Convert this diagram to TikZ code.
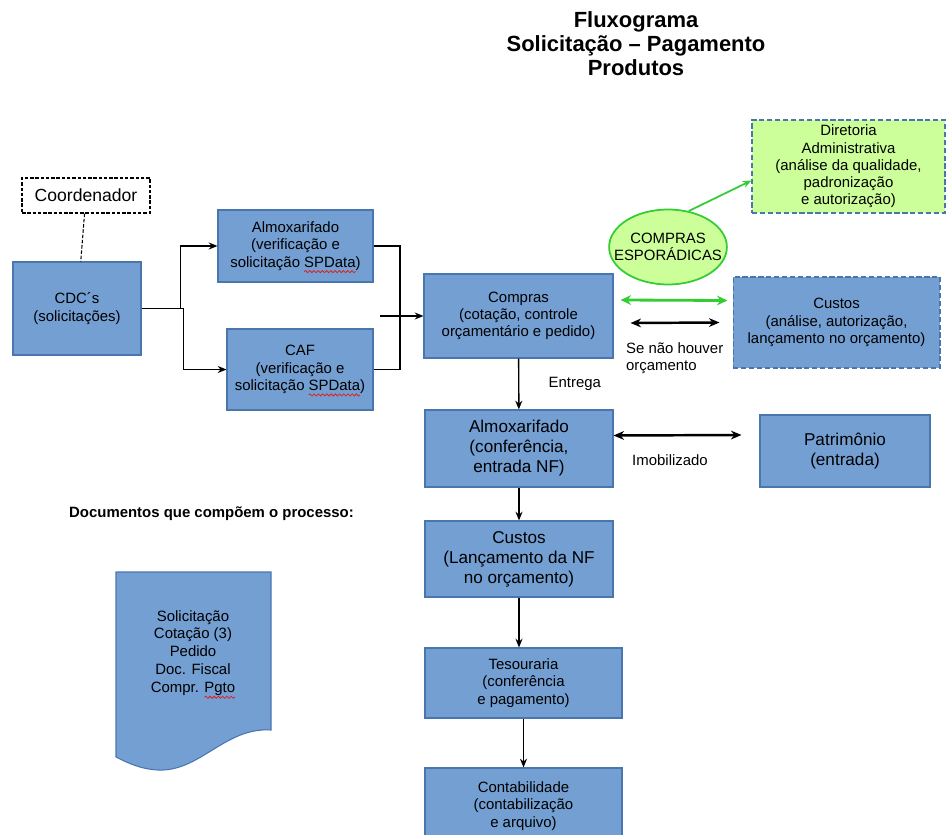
\documentclass[tikz,border=0pt]{standalone}
\usepackage{fontspec}
\setmainfont{Liberation Sans}
\usetikzlibrary{positioning,calc,arrows.meta,shapes.geometric,decorations.pathmorphing}
\definecolor{cbox}{HTML}{739FD2}
\definecolor{cedge}{HTML}{4A76B0}
\definecolor{clime}{HTML}{CCFF99}
\definecolor{cgreen}{HTML}{33CC33}
\definecolor{cspell}{HTML}{E02020}
\newlength\spellw
\newcommand\spellerr[1]{\settowidth\spellw{#1}\rlap{\tikz[x=1pt,y=1pt,baseline=0pt]\draw[overlay,cspell,line width=0.45pt,decorate,decoration={snake,amplitude=0.6pt,segment length=2.4pt}] (0pt,-2.6pt) -- (\spellw,-2.6pt);}#1}
\newcommand\smalltxt{\fontsize{8.5}{9.8}\selectfont}
\newcommand\bigtxt{\fontsize{9.75}{11.4}\selectfont}
\tikzset{
  procbox/.style={draw=cedge,fill=cbox,line width=0.6pt,align=center,inner sep=2pt,font=\smalltxt},
  bigbox/.style={procbox,font=\bigtxt},
  greenbox/.style={procbox,fill=clime,dash pattern=on 3pt off 1.5pt},
  notebox/.style={draw=black,fill=white,dash pattern=on 2pt off 1pt,line width=0.6pt,font=\fontsize{10}{12}\selectfont},
  labeltxt/.style={font=\smalltxt,inner sep=1pt},
  flow/.style={->,line width=0.8pt},
  twoway/.style={<->,line width=1.4pt,>={Stealth[length=6pt,width=5pt]}},
  greenflow/.style={->,cgreen,line width=1pt}
}

\begin{document}
\begin{tikzpicture}[x=0.02cm,y=-0.02cm,>={Stealth[length=5pt,width=4pt]}]
    \useasboundingbox (0,0) rectangle (947,835);
    \clip (0,0) rectangle (947,835);
    % title
    \node[align=center,font=\fontsize{12.5}{13.7}\selectfont\bfseries] (title) at (636,44) {Fluxograma\\Solicitação – Pagamento\\Produtos};
    % requesters
    \node[notebox,minimum width=2.56cm,minimum height=0.7cm] (coord) at (86,195.5) {Coordenador};
    \node[procbox,minimum width=2.56cm,minimum height=1.86cm] (cdc) at (77,308.5) {CDC´s\\(solicitações)};
    \node[procbox,minimum width=3.1cm,minimum height=1.44cm] (almoxa) at (295.5,246) {Almoxarifado\\(verificação e\\solicitação \spellerr{SPData})};
    \node[procbox,minimum width=2.92cm,minimum height=1.62cm] (caf) at (300,369.5) {CAF\\(verificação e\\solicitação \spellerr{SPData})};
    % purchasing and approvals
    \node[procbox,minimum width=3.78cm,minimum height=1.68cm] (compras) at (518.5,316) {Compras\\(cotação, controle\\orçamentário e pedido)};
    \node[greenbox,minimum width=3.86cm,minimum height=1.86cm] (diretoria) at (848.5,166.5) {Diretoria\\Administrativa\\(análise da qualidade,\\padronização\\e autorização)};
    \node[ellipse,draw=cgreen,fill=clime,line width=1pt,minimum width=2.34cm,minimum height=1.5cm,inner xsep=-7pt,inner ysep=0pt,align=center,font=\smalltxt] (esporad) at (668,247) {COMPRAS\\ESPORÁDICAS};
    \node[procbox,dash pattern=on 3pt off 1.5pt,minimum width=4.14cm,minimum height=1.82cm] (custosa) at (836.5,322.5) {Custos\\(análise, autorização,\\lançamento no orçamento)};
    % delivery chain
    \node[bigbox,minimum width=3.76cm,minimum height=1.54cm] (almoxb) at (519,448.5) {Almoxarifado\\(conferência,\\entrada NF)};
    \node[bigbox,minimum width=3.4cm,minimum height=1.44cm] (patrim) at (845,451) {Patrimônio\\(entrada)};
    \node[bigbox,minimum width=3.76cm,minimum height=1.52cm] (custosb) at (519,559) {Custos\\(Lançamento da NF\\no orçamento)};
    \node[procbox,minimum width=3.94cm,minimum height=1.4cm] (tesour) at (523.5,683) {Tesouraria\\(conferência\\e pagamento)};
    \node[procbox,minimum width=3.94cm,minimum height=1.52cm] (contab) at (523.5,806) {Contabilidade\\(contabilização\\e arquivo)};
    % documents
    \node[font=\fontsize{8.5}{10}\selectfont\bfseries] (doctitle) at (211.5,514) {Documentos que compõem o processo:};
    \draw[draw=cedge,fill=cbox,line width=0.6pt] (116,572) -- (271,572) -- (271,730)
      .. controls (225,727) and (200,772) .. (158,770)
      .. controls (140,769) and (128,763) .. (116,757) -- cycle;
    \node[align=center,font=\fontsize{8.5}{10.2}\selectfont] (doclist) at (193,653) {Solicitação\\Cotação (3)\\Pedido\\Doc. Fiscal\\Compr. \spellerr{Pgto}};
    % requests into purchasing
    \draw[dash pattern=on 2pt off 1pt,line width=0.6pt] (coord) -- (cdc);
    \draw[flow] (cdc.east) -- ++(39,0) |- (almoxa.west);
    \draw[flow] (cdc.east) -- ++(42,0) |- (caf.west);
    \coordinate (merge) at (400,316);
    \coordinate (mergein) at (380,316);
    \draw[line width=0.8pt] (almoxa.east) -| (merge);
    \draw[line width=0.8pt] (caf.east) -| (merge);
    \draw[flow] (mergein) -- (compras.west);
    % sporadic purchases / budget
    \draw[greenflow] (esporad.60) -- ($(diretoria.west)+(0,14)$);
    \draw[greenflow,<->,line width=1.6pt,>={Stealth[length=6pt,width=5.5pt]}] ($(compras.east)+(7,-16)$) -- ($(custosa.west)+(-5,-22)$);
    \draw[twoway] ($(compras.east)+(17,7)$) -- ($(custosa.west)+(-13,0)$);
    \node[labeltxt,anchor=west,align=left] (semorc) at (624,358) {Se não houver\\orçamento};
    % delivery
    \draw[flow] (compras) -- (almoxb) node[midway,right=0.55cm,labeltxt] (entrega) {Entrega};
    \draw[twoway] ($(almoxb.east)+(0,-13)$) -- ($(patrim.west)+(-18,-16)$);
    \node[labeltxt] (imob) at (670,460) {Imobilizado};
    \draw[flow] (almoxb) -- (custosb);
    \draw[flow] (custosb.south) -- (custosb.south |- tesour.north);
    \draw[flow] (tesour) -- (contab);
\end{tikzpicture}
\end{document}
